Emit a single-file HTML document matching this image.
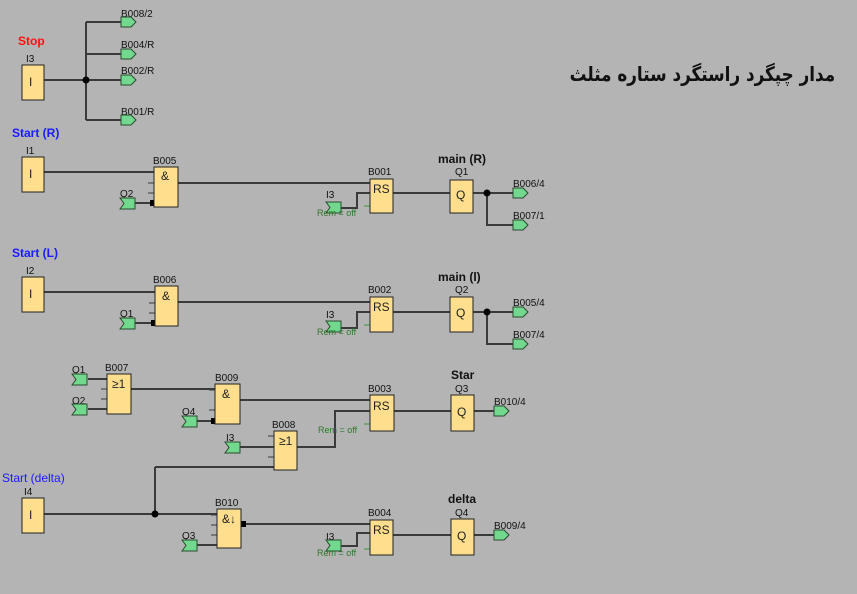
<!DOCTYPE html>
<html><head><meta charset="utf-8"><style>
html,body{margin:0;padding:0;background:#b4b4b4;}
svg{display:block;}
text{font-family:"Liberation Sans",sans-serif;}
#title{position:absolute;right:22px;top:62px;font:bold 20px "DejaVu Sans",sans-serif;color:#111;direction:rtl;white-space:nowrap;transform:scaleX(0.84);transform-origin:right center;}
</style></head><body>
<div id="title" dir="rtl">مدار چپگرد راستگرد ستاره مثلث</div>
<svg width="857" height="594" viewBox="0 0 857 594" xmlns="http://www.w3.org/2000/svg">
<defs>
<g id="of"><polygon points="0,0 10,0 15,5 10,10 0,10" fill="#72d88e" stroke="#2a4a30" stroke-width="1"/></g>
<g id="if"><polygon points="0,0 15,0 15,11 0,11 4,5.5" fill="#72d88e" stroke="#2a4a30" stroke-width="1"/></g>
</defs>
<rect width="857" height="594" fill="#b4b4b4"/>
<g stroke="#3a3a3a" stroke-width="2" fill="none">
<path d="M44 80H121 M86 22V120 M86 22H121 M86 54H121 M86 120H121"/>
<path d="M44 172H154 M135 203H154 M178 183H370 M341 208H357V193H370 M393 193H450 M473 193H513 M487 193V225H513"/>
<path d="M44 292H155 M135 323H155 M178 302H370 M341 328H357V312H370 M393 312H450 M473 312H513 M487 312V344H513"/>
<path d="M88 379H107 M88 409H107 M131 389H215 M197 421H215 M240 400H370 M240 447H274 M155 467H274 M155 467V514 M297 447H335V411H370 M394 411H451 M474 411H494"/>
<path d="M44 514H217 M197 545H217 M241 524H370 M341 546H357V533H370 M393 535H451 M474 535H494"/>
</g>
<g stroke="#3a3a3a" stroke-width="1">
<path d="M148 183H154 M148 193H154 M149 303H155 M149 313H155 M101 389H107 M101 399H107 M209 390H215 M209 410H215 M268 436H274 M268 457H274 M211 515H217 M211 525H217 M211 535H217"/>
</g>
<g stroke="#3a9a3a" stroke-width="1"><path d="M364 206H370 M364 325H370 M364 424H370 M364 549H370"/></g>
<g fill="#000">
<circle cx="86" cy="80" r="3.5"/><circle cx="487" cy="193" r="3.5"/><circle cx="487" cy="312" r="3.5"/><circle cx="155" cy="514" r="3.5"/>
<rect x="150" y="200" width="5" height="6"/><rect x="151" y="320" width="5" height="6"/><rect x="211" y="418" width="5" height="6"/><rect x="241" y="521" width="5" height="6"/>
</g>
<g fill="#ffdf8e" stroke="#222" stroke-width="1">
<rect x="22" y="65" width="22" height="35"/>
<rect x="22" y="157" width="22" height="35"/>
<rect x="22" y="277" width="22" height="35"/>
<rect x="22" y="498" width="22" height="35"/>
<rect x="154" y="167" width="24" height="40"/>
<rect x="155" y="286" width="23" height="40"/>
<rect x="107" y="374" width="24" height="40"/>
<rect x="215" y="384" width="25" height="40"/>
<rect x="274" y="431" width="23" height="39"/>
<rect x="217" y="509" width="24" height="39"/>
<rect x="370" y="179" width="23" height="34"/>
<rect x="370" y="297" width="23" height="35"/>
<rect x="370" y="395" width="24" height="36"/>
<rect x="370" y="520" width="23" height="35"/>
<rect x="450" y="180" width="23" height="33"/>
<rect x="450" y="297" width="23" height="35"/>
<rect x="451" y="395" width="23" height="36"/>
<rect x="451" y="519" width="23" height="36"/>
</g>
<g font-size="12" fill="#222">
<text x="29" y="86">I</text><text x="29" y="178">I</text><text x="29" y="298">I</text><text x="29" y="519">I</text>
<text x="161" y="180">&amp;</text><text x="162" y="300">&amp;</text><text x="222" y="398">&amp;</text><text x="222" y="523">&amp;↓</text>
<text x="112" y="388">≥1</text><text x="279" y="445">≥1</text>
<text x="373" y="193">RS</text><text x="373" y="311">RS</text><text x="373" y="410">RS</text><text x="373" y="534">RS</text>
<text x="456" y="199">Q</text><text x="456" y="317">Q</text><text x="457" y="416">Q</text><text x="457" y="540">Q</text>
</g>
<g font-size="10" fill="#111">
<text x="26" y="62">I3</text><text x="26" y="154">I1</text><text x="26" y="274">I2</text><text x="24" y="495">I4</text>
<text x="121" y="17">B008/2</text><text x="121" y="48">B004/R</text><text x="121" y="74">B002/R</text><text x="121" y="115">B001/R</text>
<text x="153" y="164">B005</text><text x="153" y="283">B006</text><text x="105" y="371">B007</text><text x="215" y="381">B009</text><text x="272" y="428">B008</text><text x="215" y="506">B010</text>
<text x="368" y="175">B001</text><text x="368" y="293">B002</text><text x="368" y="392">B003</text><text x="368" y="516">B004</text>
<text x="455" y="175">Q1</text><text x="455" y="293">Q2</text><text x="455" y="392">Q3</text><text x="455" y="516">Q4</text>
<text x="513" y="187">B006/4</text><text x="513" y="219">B007/1</text><text x="513" y="306">B005/4</text><text x="513" y="338">B007/4</text>
<text x="494" y="405">B010/4</text><text x="494" y="529">B009/4</text>
<text x="120" y="197">Q2</text><text x="120" y="317">Q1</text><text x="72" y="373">Q1</text><text x="72" y="404">Q2</text><text x="182" y="415">Q4</text><text x="182" y="539">Q3</text>
<text x="226" y="441">I3</text><text x="326" y="198">I3</text><text x="326" y="318">I3</text><text x="326" y="540">I3</text>
</g>
<use href="#of" x="121" y="17"/><use href="#of" x="121" y="49"/><use href="#of" x="121" y="75"/><use href="#of" x="121" y="115"/>
<use href="#of" x="513" y="188"/><use href="#of" x="513" y="220"/><use href="#of" x="513" y="307"/><use href="#of" x="513" y="339"/>
<use href="#of" x="494" y="406"/><use href="#of" x="494" y="530"/>
<use href="#if" x="120" y="198"/><use href="#if" x="120" y="318"/><use href="#if" x="72" y="374"/><use href="#if" x="72" y="404"/>
<use href="#if" x="182" y="416"/><use href="#if" x="182" y="540"/><use href="#if" x="225" y="442"/>
<use href="#if" x="326" y="202"/><use href="#if" x="326" y="321"/><use href="#if" x="326" y="540"/>
<g font-size="9" fill="#2a7a2a">
<text x="317" y="216">Rem = off</text><text x="317" y="335">Rem = off</text><text x="318" y="433">Rem = off</text><text x="317" y="556">Rem = off</text>
</g>
<g font-size="12" font-weight="bold">
<text x="18" y="45" fill="#ff1010">Stop</text>
<text x="12" y="137" fill="#1a1aff">Start (R)</text>
<text x="12" y="257" fill="#1a1aff">Start (L)</text>
<text x="438" y="163" fill="#111">main (R)</text>
<text x="438" y="281" fill="#111">main (l)</text>
<text x="451" y="379" fill="#111">Star</text>
<text x="448" y="503" fill="#111">delta</text>
</g>
<text x="2" y="482" font-size="12" fill="#1a1aff">Start (delta)</text>
</svg>
</body></html>
